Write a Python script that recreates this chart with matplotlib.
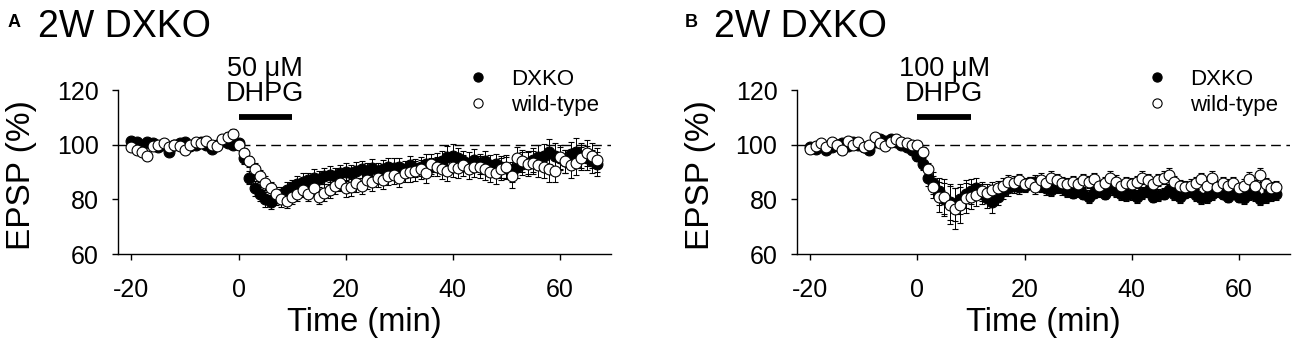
import matplotlib
matplotlib.use("Agg")
import matplotlib.pyplot as plt

plt.rcParams["font.family"] = ["Liberation Sans", "DejaVu Sans"]
plt.rcParams["axes.unicode_minus"] = False

# sample times (min), one sweep per minute
time_min = list(range(-20, 68))

# panel A: 50 uM DHPG
dxko_a = [101.5, 101, 100, 101, 100.5, 99, 100, 97.5, 100, 100.5,
          101, 99.5, 100, 101, 100, 98.5, 100, 101.5, 100.5, 100,
          100.5, 95, 88, 84, 82, 80, 79, 80.5, 82, 83.5,
          84.5, 85.5, 86.5, 87, 88, 87.5, 88.5, 89, 88.5, 89.5,
          90, 89.5, 90.5, 91, 90, 91.5, 90.5, 91, 92, 91.5,
          92, 91, 92.5, 91.5, 92, 93, 92, 93.5, 94, 95.5,
          96, 95, 94, 93.5, 94.5, 93, 94, 92.5, 93, 92,
          91.5, 90, 92, 93, 93.5, 94.5, 95.5, 96, 97.5, 96,
          95, 94, 96.5, 97.5, 96, 95, 94, 93]
dxko_a_sem = [1.0, 1.2, 1.0, 1.3, 1.0, 1.1, 1.2, 1.4, 1.0, 1.1,
              1.2, 1.0, 1.1, 1.3, 1.0, 1.2, 1.1, 1.3, 1.2, 1.4,
              1.5, 2.0, 2.5, 2.8, 2.5, 2.6, 2.4, 2.5, 2.6, 2.8,
              2.7, 2.9, 3.0, 2.8, 3.1, 3.0, 2.9, 3.2, 3.0, 3.1,
              3.2, 3.0, 3.3, 3.1, 3.2, 3.4, 3.0, 3.3, 3.2, 3.5,
              3.3, 3.1, 3.4, 3.2, 3.5, 3.6, 3.3, 3.5, 3.8, 4.0,
              4.2, 3.8, 3.6, 3.9, 4.0, 3.7, 3.9, 3.6, 3.8, 4.0,
              4.1, 3.8, 4.0, 4.2, 4.1, 4.3, 4.5, 4.4, 4.6, 4.5,
              4.3, 4.2, 4.6, 4.8, 4.5, 4.4, 4.2, 4.3]
wt_a = [99, 98, 97.5, 96, 99.5, 100, 100.5, 99, 100, 99.5,
        98, 100, 101, 100.5, 101.5, 100, 99.5, 102, 103, 104,
        100, 97, 94, 91, 88.5, 86, 84, 82, 80, 79.5,
        81, 82, 83.5, 82, 84, 81, 82.5, 83.5, 85, 86,
        84, 84.5, 86, 85, 87, 86.5, 88, 87, 88.5, 89,
        88, 89.5, 90, 90.5, 91, 89.5, 93, 92, 91, 90.5,
        92, 91.5, 92.5, 91, 92, 92, 91, 90, 89.5, 91,
        92, 88.5, 95, 94, 93, 93.5, 92.5, 92, 91, 90.5,
        95.5, 94, 92.5, 93.5, 95, 97, 96, 94.5]
wt_a_sem = [1.0, 1.1, 1.2, 1.4, 1.0, 1.1, 1.0, 1.2, 1.1, 1.0,
            1.3, 1.1, 1.0, 1.2, 1.1, 1.0, 1.2, 1.3, 1.5, 1.8,
            1.6, 1.8, 2.0, 2.2, 2.3, 2.4, 2.5, 2.4, 2.6, 2.8,
            2.5, 2.6, 2.8, 2.7, 2.9, 2.8, 3.0, 2.9, 3.1, 3.0,
            3.2, 3.1, 3.3, 3.0, 3.2, 3.3, 3.4, 3.2, 3.3, 3.5,
            3.4, 3.3, 3.5, 3.6, 3.4, 3.5, 3.7, 3.6, 3.5, 3.8,
            3.9, 3.7, 3.8, 3.6, 3.9, 4.0, 3.8, 3.7, 3.9, 4.0,
            4.1, 4.5, 4.2, 4.0, 4.3, 4.1, 4.4, 4.2, 4.5, 4.3,
            4.4, 4.2, 4.6, 4.5, 4.3, 4.7, 4.5, 4.4]

# panel B: 100 uM DHPG
dxko_b = [99, 98.5, 100, 98, 99, 100, 100.5, 99.5, 101, 100,
          99, 98, 101, 102, 101.5, 102, 101, 100, 99, 98,
          96, 93, 88, 86, 83, 80, 79, 78, 80, 82,
          83, 84, 82, 80.5, 79, 81, 83, 84, 85, 84.5,
          85, 86, 86.5, 85, 84, 83.5, 84.5, 84, 83, 82.5,
          83, 82, 81, 82.5, 83, 82, 84, 83, 82, 81.5,
          82, 81, 82.5, 83, 81, 81.5, 82, 83.5, 82, 81,
          82.5, 83, 81.5, 80.5, 81, 82, 83, 82, 81, 82.5,
          81, 80.5, 82, 81.5, 80, 81, 81.5, 82]
dxko_b_sem = [1.0, 1.1, 1.0, 1.2, 1.0, 1.1, 1.0, 1.2, 1.1, 1.0,
              1.2, 1.1, 1.0, 1.2, 1.1, 1.0, 1.2, 1.1, 1.3, 1.4,
              1.8, 2.2, 3.0, 4.0, 5.0, 6.0, 6.5, 6.0, 5.5, 5.0,
              4.5, 4.0, 3.8, 3.5, 4.0, 3.2, 3.0, 2.8, 2.6, 2.5,
              2.4, 2.3, 2.5, 2.2, 2.4, 2.3, 2.2, 2.4, 2.3, 2.1,
              2.2, 2.0, 2.3, 2.1, 2.2, 2.0, 2.3, 2.1, 2.2, 2.0,
              2.1, 2.3, 2.2, 2.0, 2.1, 2.2, 2.0, 2.3, 2.1, 2.2,
              2.0, 2.1, 2.2, 2.0, 2.3, 2.1, 2.2, 2.0, 2.1, 2.2,
              2.0, 2.1, 2.2, 2.0, 2.1, 2.3, 2.1, 2.2]
wt_b = [98.5, 99.5, 100.5, 99, 101, 100, 98, 101.5, 100, 101,
        99, 100, 103, 100.5, 99.5, 101, 102, 101, 100.5, 100,
        100, 97.5, 91, 84.5, 81, 81, 78, 76.5, 78, 80.5,
        81, 81.5, 83, 82.5, 83.5, 84, 85, 86.5, 86, 87,
        85.5, 86, 84.5, 87, 86, 88, 87, 86, 85.5, 86.5,
        85.5, 87, 86.5, 87.5, 85, 86, 88, 86.5, 85, 86,
        85.5, 86.5, 88, 87, 85.5, 87, 88, 89, 86.5, 85,
        84.5, 85, 86, 87.5, 85, 88, 84.5, 86, 85, 86,
        84, 85, 87.5, 85, 89, 85.5, 84, 84.5]
wt_b_sem = [1.0, 1.1, 1.0, 1.2, 1.1, 1.0, 1.2, 1.1, 1.0, 1.2,
            1.1, 1.0, 1.3, 1.1, 1.0, 1.2, 1.1, 1.0, 1.2, 1.1,
            1.3, 1.8, 2.5, 4.0, 5.5, 6.5, 7.0, 7.5, 6.5, 5.5,
            4.5, 4.0, 3.5, 3.2, 3.0, 2.8, 2.7, 2.6, 2.5, 2.4,
            2.5, 2.3, 2.4, 2.5, 2.3, 2.4, 2.2, 2.3, 2.4, 2.2,
            2.3, 2.4, 2.2, 2.3, 2.1, 2.2, 2.4, 2.3, 2.2, 2.1,
            2.3, 2.2, 2.4, 2.3, 2.1, 2.2, 2.3, 2.4, 2.2, 2.1,
            2.2, 2.3, 2.1, 2.2, 2.4, 2.3, 2.2, 2.1, 2.3, 2.2,
            2.1, 2.3, 2.4, 2.2, 2.5, 2.3, 2.2, 2.1]

panel_letters = ["A", "B"]
panel_titles = ["2W DXKO", "2W DXKO"]
drug_labels = ["50 \u03bcM\nDHPG", "100 \u03bcM\nDHPG"]
drug_window = (0, 10)
baseline_level = 100
series_labels = ["DXKO", "wild-type"]
x_ticks = [-20, 0, 20, 40, 60]
y_ticks = [60, 80, 100, 120]

panels = [
    (dxko_a, dxko_a_sem, wt_a, wt_a_sem),
    (dxko_b, dxko_b_sem, wt_b, wt_b_sem),
]

fig = plt.figure(figsize=(13, 3.48), dpi=100)
axes_left = [0.0908, 0.613]
letter_x = [0.006, 0.527]
title_x = [0.029, 0.549]

for i, (ko, ko_sem, wt, wt_sem) in enumerate(panels):
    ax = fig.add_axes([axes_left[i], 0.270, 0.379, 0.471])

    ax.axhline(baseline_level, color="black", lw=1.0, ls=(0, (7, 4)), zorder=1)
    ko_bars = ax.errorbar(time_min, ko, yerr=ko_sem, fmt="o", color="black", mfc="black",
                          mec="black", ms=7.8, mew=0.8, ecolor="black", elinewidth=0.7,
                          capsize=2.5, capthick=0.7, zorder=2)
    wt_bars = ax.errorbar(time_min, wt, yerr=wt_sem, fmt="o", color="black", mfc="white",
                          mec="black", ms=7.8, mew=0.8, ecolor="black", elinewidth=0.7,
                          capsize=2.5, capthick=0.7, zorder=3)

    # drug application bar + label
    ax.plot(drug_window, [110.2, 110.2], color="black", lw=4.2,
            solid_capstyle="butt", clip_on=False)
    ax.text(sum(drug_window) / 2, 114.0, drug_labels[i], ha="center", va="bottom",
            fontsize=19.5, linespacing=0.95, clip_on=False)

    ax.set_xlim(-22.5, 69.5)
    ax.set_ylim(60, 120)
    ax.set_xticks(x_ticks)
    ax.set_yticks(y_ticks)
    ax.spines[["top", "right"]].set_visible(False)
    ax.spines[["left", "bottom"]].set_linewidth(1.0)
    ax.tick_params(axis="x", direction="out", length=4.5, width=1.0, pad=13, labelsize=18)
    ax.tick_params(axis="y", direction="out", length=4, width=1.0, pad=10, labelsize=18)
    ax.set_xlabel("Time (min)", fontsize=23.5, labelpad=3)
    ax.set_ylabel("EPSP (%)", fontsize=24)
    ax.yaxis.set_label_coords(-0.165, 0.48)

    ax.legend([ko_bars[0], wt_bars[0]], series_labels, loc="upper left",
              bbox_to_anchor=(0.69, 1.185), frameon=False, fontsize=16,
              handlelength=1.0, handletextpad=1.0, labelspacing=0.25,
              markerscale=0.85, borderaxespad=0)

    fig.text(letter_x[i], 0.922, panel_letters[i], fontsize=13, fontweight="bold")
    fig.text(title_x[i], 0.894, panel_titles[i], fontsize=27)

fig.savefig("out.png", dpi=100)
